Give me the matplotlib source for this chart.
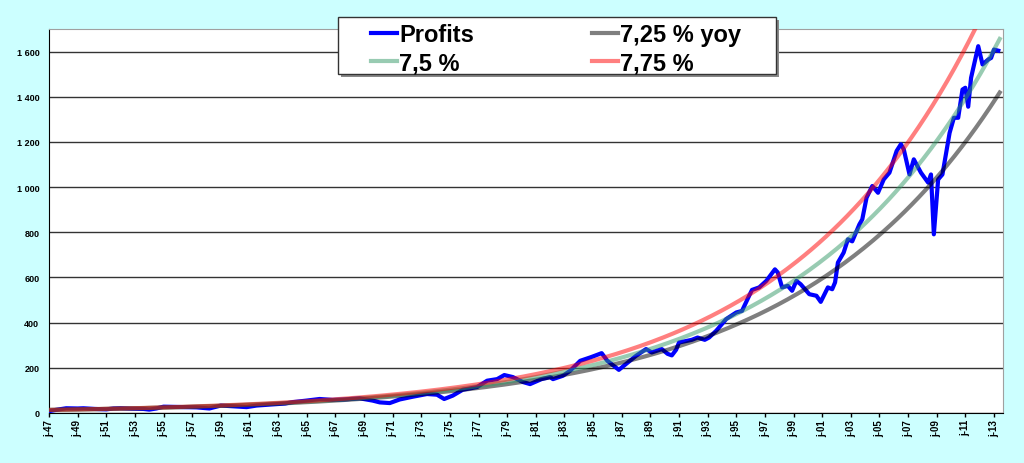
import numpy as np
import matplotlib
matplotlib.use("Agg")
import matplotlib.pyplot as plt
from matplotlib.patches import Rectangle
from matplotlib.ticker import FuncFormatter

# ---- data ----
profit_years = [1947.0, 1947.5, 1948.2, 1949.0, 1949.4, 1950.2, 1951.0, 1951.5, 1952.0, 1952.8,
                1953.6, 1954.0, 1954.5, 1955.0, 1955.8, 1956.5, 1957.3, 1958.2, 1959.0, 1959.8,
                1960.8, 1961.5, 1962.6, 1963.5, 1964.0, 1965.0, 1965.9, 1966.8, 1967.6, 1968.7,
                1969.6, 1970.1, 1970.8, 1971.5, 1972.4, 1973.4, 1974.1, 1974.6, 1975.2, 1975.9,
                1976.9, 1977.6, 1978.3, 1978.8, 1979.4, 1980.1, 1980.6, 1981.4, 1982.0, 1982.2,
                1982.9, 1983.4, 1984.1, 1984.8, 1985.1, 1985.6, 1986.0, 1986.8, 1987.3, 1988.0,
                1988.7, 1989.1, 1989.8, 1990.2, 1990.5, 1990.8, 1991.0, 1991.9, 1992.3, 1992.8,
                1993.1, 1993.6, 1994.3, 1995.0, 1995.4, 1995.9, 1996.1, 1996.6, 1997.1, 1997.7,
                1997.9, 1998.2, 1998.6, 1998.9, 1999.2, 1999.5, 2000.1, 2000.6, 2000.9, 2001.4,
                2001.7, 2001.9, 2002.1, 2002.5, 2002.8, 2003.1, 2003.6, 2003.8, 2004.1, 2004.5,
                2004.9, 2005.3, 2005.7, 2006.2, 2006.5, 2006.7, 2007.1, 2007.4, 2007.9, 2008.4,
                2008.6, 2008.8, 2009.1, 2009.4, 2009.9, 2010.2, 2010.5, 2010.8, 2011.0, 2011.2,
                2011.4, 2011.9, 2012.2, 2012.6, 2012.8, 2013.0, 2013.3]
profit_values = [8, 14, 21, 20, 21, 18, 16, 20, 21, 19,
                 18, 15, 20, 28, 27, 26, 25, 20, 33, 30,
                 26, 33, 38, 42, 48, 55, 62, 58, 60, 65,
                 55, 47, 44, 60, 72, 84, 81, 62, 77, 103,
                 115, 143, 150, 168, 159, 137, 128, 150, 159, 150,
                 165, 187, 231, 246, 253, 265, 231, 191, 217, 253,
                 283, 268, 283, 262, 255, 280, 312, 324, 334, 324,
                 334, 364, 416, 445, 452, 519, 545, 556, 585, 636,
                 622, 556, 563, 541, 585, 570, 526, 519, 492, 556,
                 548, 578, 666, 710, 769, 760, 835, 857, 953, 1005,
                 975, 1034, 1064, 1160, 1190, 1167, 1056, 1123, 1064, 1020,
                 1056, 791, 1034, 1056, 1240, 1307, 1307, 1432, 1440, 1356,
                 1484, 1624, 1543, 1565, 1572, 1609, 1604]

growth_base_year = 1947.0
growth_end_year = 2013.4
growth_base_value = 13.6
growth_rates = [0.0725, 0.075, 0.0775]
growth_labels = ["7,25 % yoy", "7,5 %", "7,75 %"]
tick_years = list(range(1947, 2014, 2))
tick_labels = ["j-%02d" % (y % 100) for y in tick_years]
y_ticks = list(range(0, 1601, 200))

# ---- figure ----
FONT = "Liberation Sans"
fig = plt.figure(figsize=(10.24, 4.64), dpi=100, facecolor="#CCFFFF")
ax = fig.add_axes([49/1024, 1-414/464, (1003-49)/1024, (414-30)/464])
ax.set_facecolor("white")

gy = np.linspace(growth_base_year, growth_end_year, 400)
growth_styles = [dict(color="black", alpha=0.5), dict(color="#339966", alpha=0.5),
                 dict(color="red", alpha=0.5)]

l_profit, = ax.plot(profit_years, profit_values, color="#0000FF", lw=3, zorder=3,
                    solid_joinstyle="round")
glines = []
for r, lab, st in zip(growth_rates, growth_labels, growth_styles):
    gl, = ax.plot(gy, growth_base_value * (1 + r) ** (gy - growth_base_year), lw=3,
                  zorder=4, label=lab, **st)
    glines.append(gl)

ax.set_xlim(1947.0, 2013.63)
ax.set_ylim(0, 1700)
ax.set_yticks(y_ticks)
ax.yaxis.set_major_formatter(FuncFormatter(lambda v, p: f"{int(v):,}".replace(",", " ")))
ax.set_xticks(tick_years)
ax.set_xticklabels(tick_labels, rotation=90)
for lab in ax.get_yticklabels():
    lab.set_fontfamily(FONT)
    lab.set_fontweight("bold")
    lab.set_fontsize(6.5)
for lab in ax.get_xticklabels():
    lab.set_fontfamily(FONT)
    lab.set_fontweight("bold")
    lab.set_fontsize(7)
ax.tick_params(axis="y", length=0, pad=7)
ax.tick_params(axis="x", length=3, width=1, pad=1.5, direction="out")
ax.grid(axis="y", color="#333333", lw=1, zorder=1)
ax.set_axisbelow(True)
for s in ["top", "right"]:
    ax.spines[s].set_color("#A0A0A0")
for s in ["left", "bottom"]:
    ax.spines[s].set_color("black")

# legend box with shadow
bx0, by0, bw, bh = 338/1024, 1-75/464, (776-338)/1024, (75-18)/464
fig.patches.append(Rectangle((bx0+3/1024, by0-3/464), bw, bh, transform=fig.transFigure,
                             facecolor="#888888", edgecolor="none", zorder=5))
fig.patches.append(Rectangle((bx0, by0), bw, bh, transform=fig.transFigure,
                             facecolor="white", edgecolor="#333333", lw=1, zorder=6))
handles = [l_profit, glines[1], glines[0], glines[2]]
labels = ["Profits", growth_labels[1], growth_labels[0], growth_labels[2]]
leg = fig.legend(handles, labels, loc="upper left", bbox_to_anchor=(352/1024, 1-5/464),
                 ncol=2, frameon=False, prop=dict(family=FONT, weight="bold", size=17),
                 handlelength=1.1, handletextpad=0.1, columnspacing=5.0,
                 labelspacing=0.24, borderpad=0.3)
leg.set_zorder(7)

fig.savefig("out.png", dpi=100, facecolor=fig.get_facecolor())
